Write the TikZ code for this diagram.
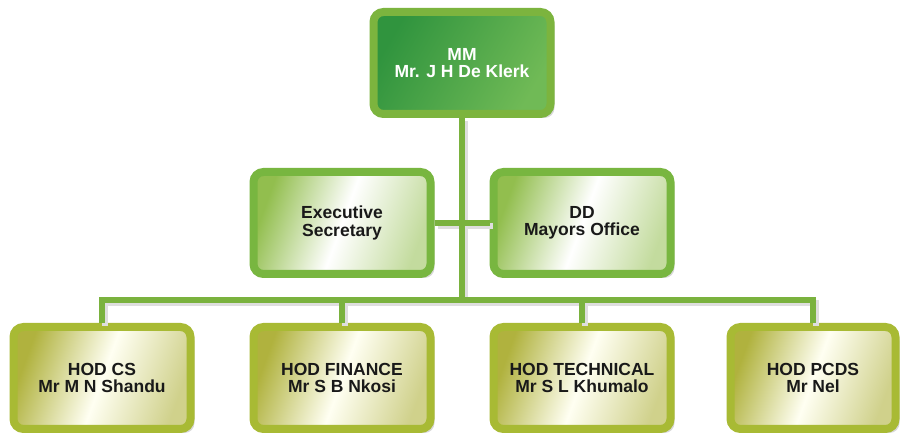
\documentclass[tikz,border=0pt]{standalone}
\usepackage{fontspec}
\setmainfont{Liberation Sans}
\usepackage{xcolor}
\usepackage{tikz}
\usetikzlibrary{positioning,calc,shadows}

\definecolor{linkgreen}{RGB}{122,178,62}
\definecolor{mmborder}{RGB}{124,180,62}
\definecolor{mmdark}{RGB}{48,148,62}
\definecolor{mmlight}{RGB}{112,186,86}
\definecolor{midborder}{RGB}{120,182,64}
\definecolor{midfill}{RGB}{146,190,78}
\definecolor{hodborder}{RGB}{168,186,52}
\definecolor{hodfill}{RGB}{176,178,62}

\begin{document}
\begin{tikzpicture}[
x=1pt, y=1pt,
node distance=45pt and 55pt,
font=\fontsize{17.5}{17.5}\selectfont\bfseries,
orgbox/.style={draw, line width=8pt, rounded corners=10pt, minimum width=177pt, minimum height=102pt, align=center,
  drop shadow={shadow xshift=4pt, shadow yshift=-4pt, fill=black!30, opacity=.5}},
mmbox/.style={orgbox, draw=mmborder, left color=mmdark, right color=mmlight, shading angle=60, text=white},
midbox/.style={orgbox, draw=midborder, left color=midfill, right color=midfill!55, middle color=white, shading angle=70, text=black!90},
hodbox/.style={orgbox, draw=hodborder, left color=hodfill, right color=hodfill!60, middle color=yellow!5, shading angle=70, text=black!90},
link/.style={draw=linkgreen, line width=6pt,
  preaction={draw=black!13, line width=6pt, transform canvas={shift={(3pt,-3pt)}}}}
]
\fill[white] (0,0) rectangle (903,439);
\useasboundingbox (0,0) rectangle (903,439);

% heads of department
\node[hodbox] (cs) at (102,61) {HOD CS\\Mr M N Shandu};
\node[hodbox, right=of cs] (finance) {HOD FINANCE\\Mr S B Nkosi};
\node[hodbox, right=of finance] (technical) {HOD TECHNICAL\\Mr S L Khumalo};
\node[hodbox, right=52pt of technical, minimum width=165pt] (pcds) {HOD PCDS\\Mr Nel};

% office of the MM
\node[midbox, above=of finance] (secretary) {Executive\\Secretary};
\node[midbox, above=of technical] (dd) {DD\\Mayors Office};
\coordinate (mid) at ($(secretary.north)!.5!(dd.north)$);
\node[mmbox, above=50pt of mid] (mm) {MM\\Mr. J H De Klerk};

\coordinate (bus) at ($(mm.south |- secretary.south)!.5!(mm.south |- cs.north)$);

% one path, so the shadow stays under every line
\draw[link] (mm.south) -- (bus)
  (secretary.east) -- (dd.west)
  (cs.north) |- (bus) -| (pcds.north)
  (finance.north) -- (finance.north |- bus)
  (technical.north) -- (technical.north |- bus);
\end{tikzpicture}
\end{document}
